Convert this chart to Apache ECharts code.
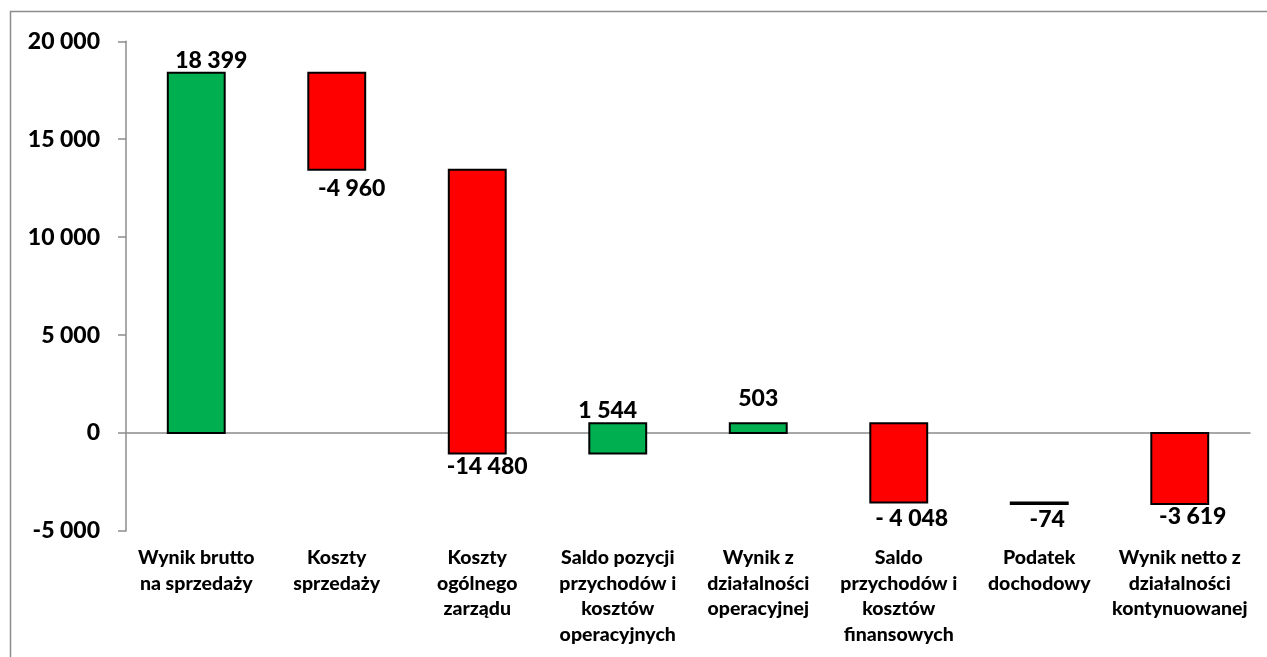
<!DOCTYPE html>
<html><head><meta charset="utf-8">
<script src="https://cdn.jsdelivr.net/npm/echarts@6/dist/echarts.min.js"></script>
<style>html,body{margin:0;padding:0;background:#fff}#c{width:1267px;height:657px}</style>
</head><body><div id="c"></div>
<script>
const categories = ['Wynik brutto\nna sprzedaży','Koszty\nsprzedaży','Koszty\nogólnego\nzarządu','Saldo pozycji\nprzychodów i\nkosztów\noperacyjnych','Wynik z\ndziałalności\noperacyjnej','Saldo\nprzychodów i\nkosztów\nfinansowych','Podatek\ndochodowy','Wynik netto z\ndziałalności\nkontynuowanej'];
const values = [18399, -4960, -14480, 1544, 503, -4048, -74, -3619];
const kinds = ['total','delta','delta','delta','total','delta','delta','total'];
const labelTexts = ['18 399','-4 960','-14 480','1 544','503','- 4 048','-74','-3 619'];
const yTicks = [-5000, 0, 5000, 10000, 15000, 20000];

// build [index, start, end] from running totals
const bars = [];
let run = 0;
values.forEach((v, i) => {
  let s, e;
  if (kinds[i] === 'total') { s = 0; e = v; run = v; }
  else { s = run; e = run + v; run = e; }
  bars.push([i, s, e]);
});

// label offsets (dx, dy from bar end edge) – styling only
const labelOff = [[15,-12],[15,19],[10,13],[-10,-13],[0,-25],[13,16],[8,16],[13,13]];
const FONT = 'Lato, "Open Sans", sans-serif';
const W = 900;

const chart = echarts.init(document.getElementById('c'));
chart.setOption({
  animation: false,
  backgroundColor: '#fff',
  graphic: [{ type: 'rect', shape: { x: 10.5, y: 11.5, width: 1400, height: 800 },
    style: { fill: 'none', stroke: '#8c8c8c', lineWidth: 1.5 }, silent: true, z: -1 }],
  grid: { left: 126, right: 17, top: 41.3, bottom: 126, containLabel: false },
  xAxis: [{
    type: 'category', data: categories, position: 'bottom',
    axisLine: { show: false, onZero: false }, axisTick: { show: false },
    axisLabel: { interval: 0, margin: 14, fontFamily: FONT, fontWeight: W, fontSize: 19.5, lineHeight: 25.5, color: '#000' }
  }, {
    type: 'category', data: categories, position: 'bottom',
    axisLine: { show: true, onZero: true, lineStyle: { color: '#8c8c8c', width: 1.5 } },
    axisTick: { show: false }, axisLabel: { show: false }
  }],
  yAxis: {
    type: 'value', min: -5000, max: 20000, interval: 5000,
    axisLine: { show: true, lineStyle: { color: '#8c8c8c', width: 1.5 } },
    axisTick: { show: true, length: 8, lineStyle: { color: '#8c8c8c', width: 1.5 } },
    splitLine: { show: false },
    axisLabel: { margin: 26, fontFamily: FONT, fontWeight: W, fontSize: 23, color: '#000',
      formatter: v => (v < 0 ? '-' : '') + Math.abs(v).toString().replace(/\B(?=(\d{3})+(?!\d))/g, ' ') }
  },
  series: [{
    type: 'custom', xAxisIndex: 0,
    data: bars,
    encode: { x: 0, y: [1, 2] },
    renderItem: function (params, api) {
      const i = api.value(0), s = api.value(1), e = api.value(2);
      const p1 = api.coord([i, s]), p2 = api.coord([i, e]);
      const w = api.size([1, 0])[0] * 0.405;
      const top = Math.min(p1[1], p2[1]), h = Math.abs(p1[1] - p2[1]);
      const color = (e - s) >= 0 ? '#00B050' : '#FF0000';
      const off = labelOff[i];
      const up = e > s;
      const edgeY = up ? top : top + h;
      return {
        type: 'group',
        children: [{
          type: 'rect',
          shape: { x: p1[0] - w / 2, y: top, width: w, height: Math.max(h, 0.5) },
          style: { fill: color, stroke: '#000', lineWidth: 2 }
        }, {
          type: 'text',
          style: { text: labelTexts[i], x: p1[0] + off[0], y: edgeY + off[1], align: 'center', verticalAlign: 'middle',
            fontFamily: FONT, fontWeight: W, fontSize: 23, fill: '#000' }
        }]
      };
    }
  }]
});
</script></body></html>
